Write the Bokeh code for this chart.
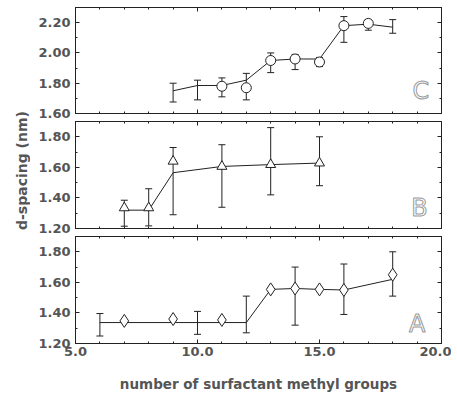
from bokeh.plotting import figure
from bokeh.layouts import column, row
from bokeh.models import (ColumnDataSource, Whisker, TeeHead, LinearAxis,
                          SingleIntervalTicker, Range1d, Label, NumeralTickFormatter,
                          CustomLabelingPolicy)
from bokeh.embed import file_html
from bokeh.resources import INLINE
import math

# ---------------- data ----------------
x_ticks = [5, 10, 15, 20]
x_tick_labels = ["5.0", "10.0", "15.0", "20.0"]
x_label = "number of surfactant methyl groups"
y_label = "d-spacing (nm)"

# Panel C (circles)
c_x = [9, 10, 11, 12, 13, 14, 15, 16, 17, 18]
c_line = [1.75, 1.785, 1.785, 1.82, 1.95, 1.96, 1.96, 2.18, 2.19, 2.17]
c_lo = [1.676, 1.69, 1.71, 1.69, 1.87, 1.89, 1.91, 2.07, 2.15, 2.13]
c_hi = [1.80, 1.82, 1.835, 1.865, 2.00, 1.99, 1.97, 2.24, 2.22, 2.22]
c_mark_x = [11, 12, 13, 14, 15, 16, 17]
c_mark_y = [1.78, 1.77, 1.95, 1.96, 1.94, 2.18, 2.195]

# Panel B (triangles)
b_x = [7, 8, 9, 11, 13, 15]
b_line = [1.32, 1.32, 1.565, 1.606, 1.618, 1.628]
b_lo = [1.215, 1.217, 1.29, 1.339, 1.42, 1.48]
b_hi = [1.385, 1.46, 1.73, 1.748, 1.86, 1.80]
b_mark_y = [1.335, 1.335, 1.64, 1.606, 1.618, 1.628]

# Panel A (diamonds)
a_x = [6, 7, 9, 10, 11, 12, 13, 14, 15, 16, 18]
a_line = [1.337, 1.337, 1.337, 1.337, 1.337, 1.337, 1.554, 1.56, 1.554, 1.55, 1.62]
a_mark_x = [7, 9, 11, 13, 14, 15, 16, 18]
a_mark_y = [1.348, 1.36, 1.354, 1.554, 1.56, 1.554, 1.55, 1.65]
a_err_x = [6, 10, 12, 14, 16, 18]
a_err_lo = [1.249, 1.26, 1.27, 1.32, 1.39, 1.51]
a_err_hi = [1.396, 1.41, 1.51, 1.70, 1.72, 1.80]

INK = "#222222"
TXT = "#555555"
FONT = "DejaVu Sans"
LABEL_W = 30

NO_LABELS = """
for (const i of indices) {
    indices.unset(i)
}
return indices
"""


def style_axis(ax, labels):
    ax.axis_line_color = INK
    ax.major_tick_line_color = INK
    ax.minor_tick_line_color = INK
    ax.major_tick_in = 4
    ax.major_tick_out = 0
    ax.minor_tick_in = 2
    ax.minor_tick_out = 0
    if labels:
        ax.major_label_text_font = FONT
        ax.major_label_text_font_style = "bold"
        ax.major_label_text_font_size = "13px"
        ax.major_label_text_color = TXT
        ax.major_label_standoff = 5
    else:
        ax.major_label_policy = CustomLabelingPolicy(code=NO_LABELS)
        ax.major_label_text_font_size = "0px"
        ax.major_label_standoff = 0


def make_panel(y0, y1, fh, bt, bb, xlabels=False):
    p = figure(frame_width=366, frame_height=fh,
               x_range=Range1d(5, 20), y_range=Range1d(y0 - 1e-6, y1),
               output_backend="svg", toolbar_location=None,
               min_border_left=75 - LABEL_W, min_border_right=10,
               min_border_top=bt, min_border_bottom=bb)
    p.grid.visible = False
    p.outline_line_color = INK
    p.background_fill_color = "white"
    p.border_fill_color = "white"
    xax = p.xaxis[0]
    yax = p.yaxis[0]
    xax.ticker = SingleIntervalTicker(interval=5, num_minor_ticks=5)
    yax.ticker = SingleIntervalTicker(interval=0.2, num_minor_ticks=2)
    yax.formatter = NumeralTickFormatter(format="0.00")
    xax.major_label_overrides = dict(zip(x_ticks, x_tick_labels))
    style_axis(yax, True)
    style_axis(xax, xlabels)
    if xlabels:
        xax.major_label_standoff = 3
    ra = LinearAxis(ticker=SingleIntervalTicker(interval=0.2, num_minor_ticks=2))
    style_axis(ra, False)
    p.add_layout(ra, "right")
    ta = LinearAxis(ticker=SingleIntervalTicker(interval=5, num_minor_ticks=5))
    style_axis(ta, False)
    p.add_layout(ta, "above")
    if xlabels:
        xax.axis_label = x_label
        xax.axis_label_text_font = FONT
        xax.axis_label_text_font_style = "bold"
        xax.axis_label_text_font_size = "13.5px"
        xax.axis_label_text_color = TXT
        xax.axis_label_standoff = 17
    return p


def add_whiskers(p, xs, lo, hi):
    src = ColumnDataSource(dict(x=xs, lo=lo, hi=hi))
    w = Whisker(source=src, base="x", lower="lo", upper="hi", dimension="height",
                line_color=INK, line_width=1,
                upper_head=TeeHead(size=7, line_color=INK, line_width=1),
                lower_head=TeeHead(size=7, line_color=INK, line_width=1))
    p.add_layout(w)


def add_letter(p, txt, x, y):
    lab = Label(x=x, y=y, text=txt, text_font=FONT, text_font_size="24px",
                text_color="white", text_outline_color="#999999",
                text_align="center", text_baseline="middle")
    p.add_layout(lab)


# ---- C ----
pc = make_panel(1.60, 2.30, 106, 7, 8)
add_whiskers(pc, c_x, c_lo, c_hi)
pc.line(c_x, c_line, line_color=INK, line_width=1)
pc.scatter(c_mark_x, c_mark_y, marker="circle", size=10, fill_color="white",
           line_color=INK, line_width=1)
add_letter(pc, "C", 19.15, 1.75)

# ---- B ----
pb = make_panel(1.20, 1.90, 107, 0, 8)
add_whiskers(pb, b_x, b_lo, b_hi)
pb.line(b_x, b_line, line_color=INK, line_width=1)
pb.scatter(b_x, b_mark_y, marker="triangle", size=10, fill_color="white",
           line_color=INK, line_width=1)
add_letter(pb, "B", 19.1, 1.335)

# ---- A ----
pa = make_panel(1.20, 1.90, 107, 0, 50, xlabels=True)
add_whiskers(pa, a_err_x, a_err_lo, a_err_hi)
pa.line(a_x, a_line, line_color=INK, line_width=1)
pa.scatter(a_mark_x, a_mark_y, marker="diamond", size=13, fill_color="white",
           line_color=INK, line_width=1)
add_letter(pa, "A", 19.0, 1.33)

# ---- shared y label ----
TOTAL_H = 393
pl = figure(width=LABEL_W, height=TOTAL_H, x_range=Range1d(0, 1), y_range=Range1d(0, 1),
            x_axis_type=None, y_axis_type=None, output_backend="svg",
            toolbar_location=None, min_border=0)
pl.grid.visible = False
pl.outline_line_color = None
pl.border_fill_color = "white"
pl.add_layout(Label(x=0.72, y=(TOTAL_H - 170) / TOTAL_H, text=y_label, angle=math.pi / 2,
                    text_font=FONT, text_font_style="bold", text_font_size="14px",
                    text_color=TXT, text_align="center", text_baseline="middle"))

layout = row(pl, column(pc, pb, pa, spacing=0), spacing=0)
open("out.html", "w").write(file_html(layout, INLINE))
